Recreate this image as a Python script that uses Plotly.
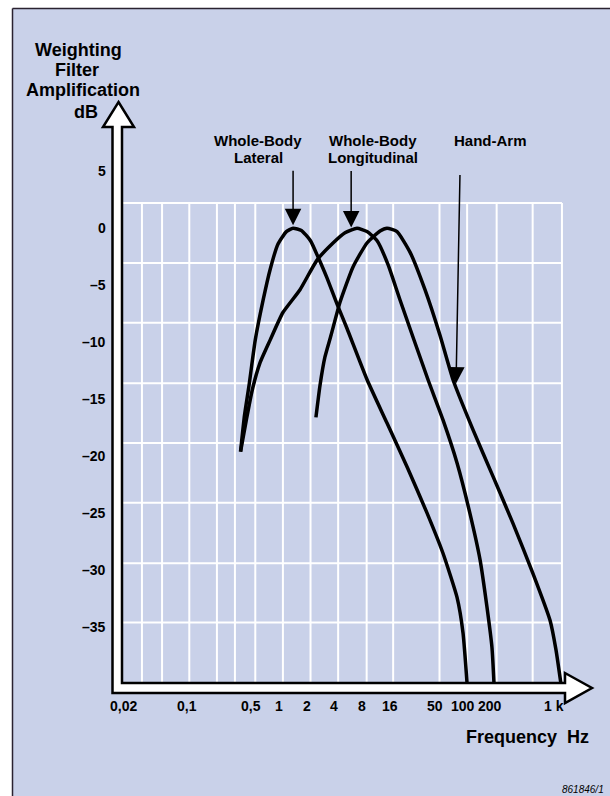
import math
import plotly.graph_objects as go

W, H = 610, 796

# Weighting curves: frequency (Hz) and filter gain (dB)
lateral_hz = [0.38, 0.42, 0.47, 0.55, 0.67, 0.80, 0.97, 1.20, 1.42, 1.75, 2.20, 2.68, 3.30, 4.25,
              5.5, 9.1, 15, 25, 41, 61, 87, 101, 112]
lateral_db = [-19.6, -16.4, -13.8, -9.8, -6.3, -3.6, -1.4, -0.3, 0.0, -0.2, -1.1, -2.6, -4.3, -6.6,
              -8.8, -13.3, -17.1, -21.0, -25.0, -28.5, -32.4, -35.5, -40.0]

longitudinal_hz = [0.38, 0.44, 0.51, 0.62, 0.80, 1.10, 1.69, 2.59, 3.87, 5.23, 7.06, 9.08, 11.7,
                   15.4, 20.8, 42, 61, 87, 120, 155, 184, 209, 220]
longitudinal_db = [-19.6, -16.8, -14.2, -11.8, -9.8, -7.4, -5.4, -2.8, -1.3, -0.4, 0.0, -0.3, -1.1,
                   -3.2, -6.3, -13.3, -16.8, -20.6, -25.0, -29.1, -33.2, -36.8, -40.0]

hand_arm_hz = [2.52, 2.79, 3.16, 3.68, 4.61, 6.39, 9.08, 12.6, 15.0, 19.3, 26.7, 38.9, 56.7, 78.6,
               130, 215, 354, 585, 897, 1042, 1181]
hand_arm_db = [-16.6, -13.8, -11.3, -9.4, -6.5, -3.4, -1.3, -0.25, 0.0, -0.3, -2.1, -5.4, -9.4,
               -13.3, -17.7, -21.8, -25.9, -30.3, -34.4, -37.0, -40.0]

# Axis labelling
x_tick_hz = [0.02, 0.1, 0.5, 1, 2, 4, 8, 16, 50, 100, 200, 1000]
x_tick_text = ["0,02", "0,1", "0,5", "1", "2", "4", "8", "16", "50", "100", "200", "1 k"]
y_tick_db = [5, 0, -5, -10, -15, -20, -25, -30, -35]
y_tick_text = ["5", "0", "–5", "–10", "–15", "–20", "–25", "–30", "–35"]

# Background grid
grid_hz = [0.032, 0.053, 0.105, 0.21, 0.33, 0.55, 1.1, 2.2, 4.4, 9, 17.5, 56, 112, 235, 580, 1210]
grid_db = [2.2, -3.05, -8.3, -13.6, -18.85, -24.1, -29.4, -34.6]
grid_hz_min, grid_db_min = 0.0192, -40.0

# Curve pointers: (label, tip frequency, tip level, tail dx px, tail dy px)
pointers = [
    ("lateral", 1.42, 0.0, 0, -59),
    ("longitudinal", 6.1, -0.2, 0, -61),
    ("hand-arm", 84.7, -13.9, 4, -213),
]

BG = "#c9d1e9"
FONT = "Liberation Sans, Arial, Helvetica, sans-serif"


def px(xp):
    return xp / W


def py(yp):
    return 1 - yp / H


fig = go.Figure()

# white grid lines
gx, gy = [], []
for f in grid_hz:
    gx += [f, f, None]
    gy += [grid_db_min, grid_db[0], None]
for d in grid_db:
    gx += [grid_hz_min, grid_hz[-1], None]
    gy += [d, d, None]
fig.add_trace(go.Scatter(x=gx, y=gy, mode="lines", line=dict(color="white", width=2),
                         hoverinfo="skip", showlegend=False))

for xs, ys in [(lateral_hz, lateral_db), (longitudinal_hz, longitudinal_db), (hand_arm_hz, hand_arm_db)]:
    fig.add_trace(go.Scatter(x=xs, y=ys, mode="lines",
                             line=dict(color="black", width=3.5, shape="spline", smoothing=0.5),
                             hoverinfo="skip", showlegend=False))

shapes = [
    dict(type="rect", xref="paper", yref="paper", x0=px(12.5), x1=1, y0=0, y1=py(8.5),
         fillcolor=BG, line=dict(width=0), layer="below"),
    dict(type="line", xref="paper", yref="paper", x0=px(12.5), x1=px(12.5), y0=0, y1=py(8.5),
         line=dict(color="#2a2230", width=1.5), layer="below"),
    dict(type="line", xref="paper", yref="paper", x0=px(12.5), x1=1, y0=py(8.5), y1=py(8.5),
         line=dict(color="#2a2230", width=1.5), layer="below"),
]

# hollow L-shaped axis arrows
outline = [(118.5, 102), (134, 127), (122, 127), (122, 683), (565, 683), (565, 673), (592, 688),
           (565, 703), (565, 693), (112.5, 693), (112.5, 127), (103, 127)]
path = "M" + " L".join(f"{px(a):.5f},{py(b):.5f}" for a, b in outline) + " Z"
shapes.append(dict(type="path", xref="paper", yref="paper", path=path, fillcolor="white",
                   line=dict(color="black", width=2.5), layer="above"))

ann = []


def text(t, x, y, size, xanchor="center", xref="paper", yref="paper", weight="bold", style="normal"):
    ann.append(dict(text=t, x=x, y=y, xref=xref, yref=yref, xanchor=xanchor, yanchor="middle",
                    showarrow=False,
                    font=dict(family=FONT, size=size, color="black", weight=weight, style=style)))


# y-axis title
for t, cx, cy in [("Weighting", 78, 50), ("Filter", 77, 70.5), ("Amplification", 82.5, 90.5),
                  ("dB", 86, 112)]:
    text(t, px(cx), py(cy), 18)

# curve names
for t, cx, cy in [("Whole-Body", 258, 140), ("Lateral", 258, 157),
                  ("Whole-Body", 373, 140), ("Longitudinal", 373, 157),
                  ("Hand-Arm", 490, 140)]:
    text(t, px(cx), py(cy), 15)

for _, f, d, dx, dy in pointers:
    ann.append(dict(text="", x=math.log10(f), y=d, xref="x", yref="y", ax=dx, ay=dy,
                    showarrow=True, arrowhead=2, arrowsize=2.2, arrowwidth=1.5, arrowcolor="black",
                    standoff=3))

for f, t in zip(x_tick_hz, x_tick_text):
    text(t, math.log10(f), py(706), 14, xref="x")
for d, t in zip(y_tick_db, y_tick_text):
    text(t, px(107.5), d, 14, xanchor="right", yref="y")

text("Frequency\u00a0\u00a0Hz", px(591), py(737), 18, xanchor="right")
text("861846/1", px(606), py(789), 10, xanchor="right", weight="normal", style="italic")

fig.update_layout(
    width=W, height=H, autosize=False,
    margin=dict(l=0, r=0, t=0, b=0),
    paper_bgcolor="white", plot_bgcolor="rgba(0,0,0,0)",
    xaxis=dict(type="log", range=[-3.042, 3.6065], visible=False, fixedrange=True),
    yaxis=dict(range=[-49.82, 20.02], visible=False, fixedrange=True),
    shapes=shapes, annotations=ann, showlegend=False,
)

fig.write_html("out.html")
